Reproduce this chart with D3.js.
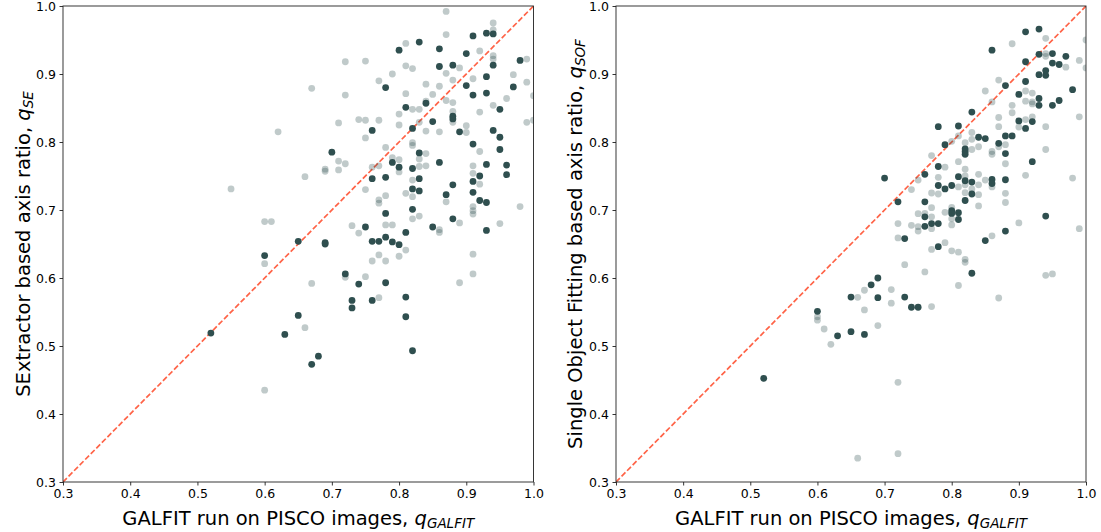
<!DOCTYPE html>
<html><head><meta charset="utf-8">
<script src="https://cdn.jsdelivr.net/npm/d3@7"></script>
<style>body{margin:0;background:#fff}</style>
</head><body>
<script>
const ticks = [0.3,0.4,0.5,0.6,0.7,0.8,0.9,1.0];
const tickLabels = ["0.3","0.4","0.5","0.6","0.7","0.8","0.9","1.0"];

const leftDark = [[0.83,0.947],[0.80,0.935],[0.86,0.937],[0.91,0.956],[0.93,0.960],[0.94,0.959],[0.90,0.930],[0.86,0.911],[0.88,0.913],[0.94,0.913],[0.98,0.920],[0.93,0.896],[0.78,0.880],[0.90,0.883],[0.91,0.869],[0.93,0.872],[0.97,0.881],[0.81,0.851],[0.84,0.857],[0.95,0.848],[0.88,0.838],[0.88,0.834],[0.85,0.830],[0.76,0.817],[0.82,0.820],[0.89,0.815],[0.94,0.817],[0.95,0.807],[0.91,0.797],[0.95,0.789],[0.70,0.785],[0.83,0.784],[0.79,0.770],[0.86,0.770],[0.93,0.767],[0.96,0.766],[0.80,0.763],[0.82,0.761],[0.76,0.746],[0.78,0.748],[0.83,0.746],[0.82,0.731],[0.83,0.728],[0.88,0.737],[0.91,0.742],[0.92,0.750],[0.96,0.752],[0.87,0.7225],[0.91,0.726],[0.92,0.714],[0.93,0.711],[0.78,0.695],[0.82,0.701],[0.88,0.687],[0.75,0.675],[0.81,0.667],[0.85,0.675],[0.93,0.670],[0.65,0.654],[0.69,0.652],[0.69,0.650],[0.76,0.654],[0.77,0.654],[0.78,0.660],[0.79,0.653],[0.80,0.649],[0.60,0.633],[0.72,0.606],[0.74,0.591],[0.78,0.593],[0.73,0.567],[0.73,0.556],[0.76,0.567],[0.81,0.572],[0.81,0.543],[0.65,0.545],[0.63,0.517],[0.68,0.485],[0.67,0.473],[0.82,0.493],[0.52,0.519]];

const leftLight = [[0.87,0.992],[0.87,0.958],[0.94,0.975],[0.94,0.965],[0.81,0.945],[0.92,0.934],[0.94,0.927],[0.94,0.922],[0.72,0.918],[0.75,0.919],[0.81,0.912],[0.82,0.908],[0.87,0.901],[0.89,0.909],[0.99,0.922],[0.79,0.900],[0.77,0.890],[0.88,0.891],[0.91,0.893],[0.97,0.899],[0.99,0.888],[0.67,0.879],[0.72,0.869],[0.81,0.871],[0.84,0.885],[0.86,0.882],[0.85,0.870],[0.84,0.860],[0.87,0.861],[0.88,0.858],[0.96,0.864],[1.0,0.868],[0.94,0.854],[0.92,0.844],[0.80,0.841],[0.82,0.848],[0.83,0.848],[0.88,0.845],[0.74,0.833],[0.75,0.832],[0.77,0.832],[0.71,0.828],[0.80,0.825],[0.83,0.829],[0.88,0.829],[0.99,0.829],[1.0,0.832],[0.90,0.824],[0.90,0.814],[0.62,0.815],[0.84,0.816],[0.86,0.815],[0.75,0.806],[0.92,0.786],[0.82,0.799],[0.82,0.795],[0.78,0.792],[0.84,0.783],[0.71,0.772],[0.72,0.768],[0.79,0.777],[0.80,0.774],[0.83,0.775],[0.84,0.765],[0.83,0.764],[0.69,0.760],[0.76,0.763],[0.77,0.765],[0.91,0.765],[0.80,0.756],[0.55,0.731],[0.60,0.683],[0.61,0.683],[0.60,0.621],[0.60,0.435],[0.66,0.749],[0.69,0.757],[0.71,0.759],[0.75,0.730],[0.77,0.715],[0.77,0.710],[0.78,0.721],[0.81,0.7245],[0.82,0.744],[0.82,0.7196],[0.83,0.691],[0.82,0.687],[0.91,0.754],[0.92,0.738],[0.87,0.712],[0.91,0.705],[0.91,0.699],[0.91,0.694],[0.89,0.681],[0.95,0.680],[0.98,0.705],[0.73,0.677],[0.74,0.666],[0.78,0.678],[0.79,0.678],[0.86,0.671],[0.86,0.667],[0.81,0.641],[0.80,0.632],[0.77,0.634],[0.76,0.625],[0.78,0.625],[0.91,0.635],[0.91,0.606],[0.89,0.593],[0.67,0.592],[0.72,0.601],[0.75,0.602],[0.77,0.571],[0.66,0.527]];

const rightDark = [[0.91,0.962],[0.93,0.966],[0.86,0.935],[0.93,0.929],[0.95,0.930],[0.97,0.926],[0.91,0.918],[0.95,0.916],[0.96,0.914],[0.94,0.905],[0.93,0.899],[0.94,0.898],[0.91,0.889],[0.88,0.883],[0.98,0.877],[0.90,0.870],[0.93,0.864],[0.93,0.854],[0.95,0.854],[0.96,0.861],[0.83,0.844],[0.90,0.831],[0.92,0.830],[0.91,0.820],[0.78,0.8225],[0.81,0.8235],[0.79,0.796],[0.84,0.807],[0.85,0.805],[0.88,0.809],[0.89,0.809],[0.87,0.798],[0.82,0.790],[0.82,0.786],[0.82,0.782],[0.88,0.783],[0.78,0.764],[0.92,0.771],[0.70,0.747],[0.76,0.7525],[0.81,0.749],[0.82,0.743],[0.83,0.741],[0.86,0.745],[0.86,0.739],[0.88,0.7445],[0.78,0.736],[0.79,0.731],[0.80,0.736],[0.83,0.7235],[0.82,0.714],[0.72,0.712],[0.76,0.712],[0.80,0.699],[0.80,0.695],[0.81,0.696],[0.81,0.686],[0.76,0.690],[0.77,0.680],[0.78,0.680],[0.76,0.676],[0.73,0.658],[0.88,0.669],[0.85,0.655],[0.78,0.646],[0.83,0.607],[0.94,0.691],[0.69,0.600],[0.68,0.590],[0.65,0.572],[0.69,0.571],[0.73,0.572],[0.74,0.557],[0.75,0.557],[0.60,0.551],[0.63,0.515],[0.65,0.521],[0.67,0.517],[0.52,0.4525]];

const rightLight = [[0.94,0.9525],[0.89,0.9445],[1.0,0.950],[0.94,0.930],[0.94,0.926],[0.97,0.910],[0.99,0.920],[1.0,0.909],[0.87,0.891],[0.85,0.875],[0.91,0.875],[0.92,0.872],[0.86,0.859],[0.91,0.860],[0.92,0.859],[0.92,0.856],[0.89,0.854],[0.89,0.843],[0.87,0.836],[0.87,0.8225],[0.91,0.833],[0.90,0.822],[0.92,0.837],[0.99,0.837],[0.94,0.8225],[0.94,0.789],[0.83,0.814],[0.83,0.804],[0.80,0.801],[0.81,0.809],[0.82,0.799],[0.84,0.793],[0.86,0.786],[0.86,0.782],[0.87,0.793],[0.88,0.796],[0.83,0.789],[0.77,0.780],[0.79,0.763],[0.81,0.771],[0.82,0.760],[0.88,0.768],[0.82,0.750],[0.84,0.7525],[0.91,0.751],[0.75,0.744],[0.78,0.748],[0.74,0.730],[0.77,0.725],[0.78,0.7235],[0.81,0.734],[0.82,0.737],[0.83,0.731],[0.84,0.737],[0.85,0.744],[0.86,0.734],[0.82,0.7255],[0.84,0.7225],[0.84,0.706],[0.88,0.7245],[0.88,0.711],[0.80,0.704],[0.79,0.6966],[0.77,0.7034],[0.77,0.690],[0.75,0.6946],[0.76,0.695],[0.72,0.680],[0.74,0.6775],[0.75,0.6755],[0.75,0.669],[0.77,0.6725],[0.80,0.687],[0.80,0.678],[0.72,0.659],[0.90,0.681],[0.86,0.662],[0.79,0.652],[0.77,0.642],[0.80,0.640],[0.81,0.638],[0.82,0.6275],[0.82,0.623],[0.73,0.6196],[0.76,0.609],[0.81,0.589],[0.87,0.5706],[0.67,0.582],[0.66,0.5716],[0.71,0.583],[0.71,0.563],[0.77,0.558],[0.67,0.553],[0.98,0.747],[0.99,0.6725],[0.94,0.604],[0.95,0.606],[0.69,0.530],[0.61,0.525],[0.60,0.543],[0.60,0.538],[0.62,0.5025],[0.72,0.4466],[0.66,0.335],[0.72,0.3416]];

const xLabelMain = "GALFIT run on PISCO images, ";
const xLabelSub = "GALFIT";
const yLabels = [["SExtractor based axis ratio, ","SE"],["Single Object Fitting based axis ratio, ","SOF"]];

const W = 1101, H = 532;
const svg = d3.select("body").append("svg").attr("width", W).attr("height", H)
  .style("font-family", "'DejaVu Sans', sans-serif");

const panels = [
  {x0: 63, x1: 533.5, light: leftLight, dark: leftDark, ylab: yLabels[0], ylx: 30},
  {x0: 616, x1: 1086, light: rightLight, dark: rightDark, ylab: yLabels[1], ylx: 582}
];
const yTop = 6, yBot = 482;
const color = "#2f4f4f";

panels.forEach((p, i) => {
  const x = d3.scaleLinear().domain([0.3, 1.0]).range([p.x0, p.x1]);
  const y = d3.scaleLinear().domain([0.3, 1.0]).range([yBot, yTop]);
  const g = svg.append("g");
  const cid = "clip" + i;
  svg.append("clipPath").attr("id", cid).append("rect")
    .attr("x", p.x0).attr("y", yTop).attr("width", p.x1 - p.x0).attr("height", yBot - yTop);

  const plot = g.append("g").attr("clip-path", `url(#${cid})`);
  plot.append("line")
    .attr("x1", x(0.3)).attr("y1", y(0.3)).attr("x2", x(1.0)).attr("y2", y(1.0))
    .attr("stroke", "tomato").attr("stroke-width", 1.7).attr("stroke-dasharray", "5.5,2.4");
  plot.selectAll("circle.l").data(p.light).join("circle").attr("class", "l")
    .attr("cx", d => x(d[0])).attr("cy", d => y(d[1])).attr("r", 3.4)
    .attr("fill", color).attr("fill-opacity", 0.3);
  plot.selectAll("circle.d").data(p.dark).join("circle").attr("class", "d")
    .attr("cx", d => x(d[0])).attr("cy", d => y(d[1])).attr("r", 3.4)
    .attr("fill", color);

  const xa = g.append("g").attr("transform", `translate(0,${yBot})`)
    .call(d3.axisBottom(x).tickValues(ticks).tickFormat((d, k) => tickLabels[k]).tickSize(3.5).tickPadding(3.5));
  const ya = g.append("g").attr("transform", `translate(${p.x0},0)`)
    .call(d3.axisLeft(y).tickValues(ticks).tickFormat((d, k) => tickLabels[k]).tickSize(3.5).tickPadding(3.5));
  [xa, ya].forEach(a => {
    a.select(".domain").remove();
    a.selectAll("text").attr("font-size", 12.5).attr("fill", "#000").attr("font-family", "'DejaVu Sans', sans-serif");
    a.selectAll("line").attr("stroke", "#000").attr("stroke-width", 0.8);
  });
  g.append("rect").attr("x", p.x0).attr("y", yTop).attr("width", p.x1 - p.x0).attr("height", yBot - yTop)
    .attr("fill", "none").attr("stroke", "#222").attr("stroke-width", 0.9);

  const xt = g.append("text").attr("x", (p.x0 + p.x1) / 2).attr("y", 525)
    .attr("text-anchor", "middle").attr("font-size", 19.5).attr("fill", "#000");
  xt.append("tspan").text(xLabelMain);
  xt.append("tspan").attr("font-style", "italic").text("q");
  xt.append("tspan").attr("font-style", "italic").attr("font-size", 13.5).attr("dy", 3).text(xLabelSub);

  const yt = g.append("text").attr("transform", `translate(${p.ylx},${(yTop + yBot) / 2}) rotate(-90)`)
    .attr("text-anchor", "middle").attr("font-size", 19.5).attr("fill", "#000");
  yt.append("tspan").text(p.ylab[0]);
  yt.append("tspan").attr("font-style", "italic").text("q");
  yt.append("tspan").attr("font-style", "italic").attr("font-size", 13.5).attr("dy", 3).text(p.ylab[1]);
});
</script>
</body></html>
